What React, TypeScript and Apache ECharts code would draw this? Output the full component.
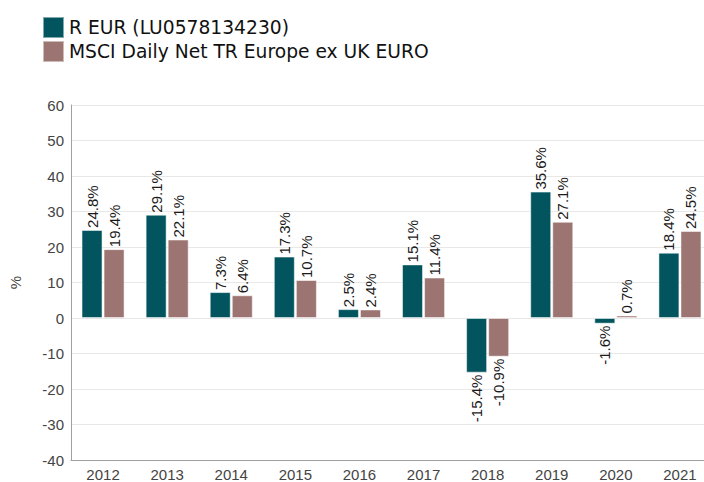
import React, { useEffect, useRef } from "react";
import * as echarts from "echarts";

const categories = ["2012", "2013", "2014", "2015", "2016", "2017", "2018", "2019", "2020", "2021"];
const fundName = "R EUR (LU0578134230)";
const benchName = "MSCI Daily Net TR Europe ex UK EURO";
const fundValues = [24.8, 29.1, 7.3, 17.3, 2.5, 15.1, -15.4, 35.6, -1.6, 18.4];
const benchValues = [19.4, 22.1, 6.4, 10.7, 2.4, 11.4, -10.9, 27.1, 0.7, 24.5];

const FUND_COLOR = "#02555f";
const BENCH_COLOR = "#9c7471";
const SANS = "Liberation Sans";

function toData(values: number[]) {
  return values.map((v) => ({
    value: v,
    label:
      v >= 0
        ? { position: "top", align: "left", verticalAlign: "middle" }
        : { position: "bottom", align: "right", verticalAlign: "middle" },
  }));
}

export default function App() {
  const ref = useRef<HTMLDivElement>(null);
  useEffect(() => {
    if (!ref.current) return;
    const chart = echarts.init(ref.current, undefined, { renderer: "svg" });
    const labelBase = {
      show: true,
      rotate: 90,
      distance: 2,
      fontFamily: SANS,
      fontSize: 15,
      color: "#1a1a1a",
      formatter: (p: any) => p.value.toFixed(1) + "%",
    };
    chart.setOption({
      animation: false,
      legend: {
        orient: "vertical",
        left: 42,
        top: 16,
        padding: 0,
        itemWidth: 21,
        itemHeight: 21,
        itemGap: 1,
        icon: "rect",
        textStyle: {
          fontFamily: "DejaVu Sans",
          fontSize: 18.7,
          color: "#111",
        },
        data: [fundName, benchName],
      },
      grid: { left: 68, right: 0, top: 105, bottom: 18, containLabel: false },
      xAxis: {
        type: "category",
        data: categories,
        axisLine: { onZero: false, lineStyle: { color: "#a0a0a0", width: 1 } },
        axisTick: { show: false },
        axisLabel: {
          fontFamily: SANS,
          fontSize: 15,
          color: "#444",
          margin: 7,
        },
      },
      yAxis: {
        type: "value",
        min: -40,
        max: 60,
        interval: 10,
        name: "%",
        nameLocation: "middle",
        nameRotate: 90,
        nameGap: 48,
        nameTextStyle: {
          fontFamily: SANS,
          fontSize: 15,
          color: "#444",
        },
        axisLine: { show: true, lineStyle: { color: "#a0a0a0", width: 1 } },
        axisTick: { show: false },
        axisLabel: {
          fontFamily: SANS,
          fontSize: 15,
          color: "#444",
          margin: 7,
        },
        splitLine: { lineStyle: { color: "#e8e8e8", width: 1 } },
      },
      series: [
        {
          name: fundName,
          type: "bar",
          data: toData(fundValues),
          barWidth: 21,
          barGap: "5%",
          itemStyle: { color: FUND_COLOR, borderColor: "rgba(255,255,255,0.5)", borderWidth: 1 },
          label: labelBase,
        },
        {
          name: benchName,
          type: "bar",
          data: toData(benchValues),
          barWidth: 21,
          barGap: "5%",
          itemStyle: { color: BENCH_COLOR, borderColor: "rgba(255,255,255,0.5)", borderWidth: 1 },
          label: labelBase,
        },
      ],
    });
    return () => chart.dispose();
  }, []);
  return (
    <div
      ref={ref}
      style={{ position: "fixed", left: 0, top: 0, width: 712, height: 482, background: "#fff" }}
    />
  );
}
